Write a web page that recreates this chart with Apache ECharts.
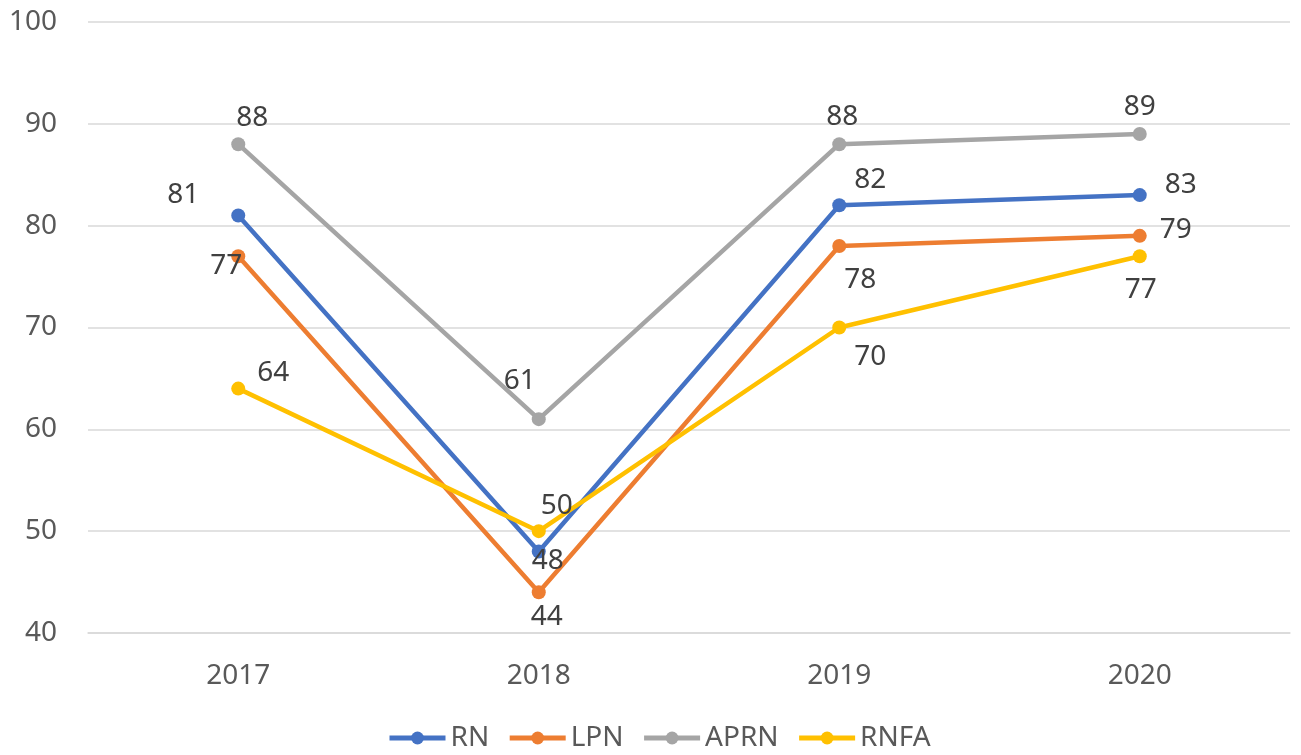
<!DOCTYPE html>
<html>
<head>
<meta charset="utf-8">
<script src="https://cdn.jsdelivr.net/npm/echarts@6/dist/echarts.min.js"></script>
<style>
  html, body { margin: 0; padding: 0; background: #fff; }
  #chart { width: 1301px; height: 755px; }
</style>
</head>
<body>
<div id="chart"></div>
<script>
const years = ['2017', '2018', '2019', '2020']
const rn = [81, 48, 82, 83]
const lpn = [77, 44, 78, 79]
const aprn = [88, 61, 88, 89]
const rnfa = [64, 50, 70, 77]

// label offsets per point, relative to the marker centre
const labelOffsets = {
  RN: [[-55, -20], [9, 9], [31, -25], [41, -10]],
  LPN: [[-12, 10], [8, 25], [21, 34], [36, -6]],
  APRN: [[14, -26], [-19, -38], [3, -27], [0, -27]],
  RNFA: [[35, -16], [18, -25], [31, 30], [1, 34]]
}

const font = '"Noto Sans", sans-serif'
const fs = 28

function makeSeries(name, values, color) {
  return {
    name: name,
    type: 'line',
    data: values.map((v, i) => ({
      value: v,
      label: { offset: labelOffsets[name][i] }
    })),
    symbol: 'circle',
    symbolSize: 14,
    lineStyle: { width: 4.5, color: color },
    itemStyle: { color: color },
    label: {
      show: true,
      position: 'inside',
      color: '#404040',
      fontSize: fs,
      fontFamily: font
    },
    emphasis: { disabled: true }
  }
}

const chart = echarts.init(document.getElementById('chart'))
chart.setOption({
  backgroundColor: '#fff',
  animation: false,
  grid: { left: 88, right: 11, top: 22, bottom: 122 },
  legend: {
    bottom: -2,
    left: 382,
    itemWidth: 56,
    itemHeight: 16,
    itemGap: 18,
    lineStyle: { width: 5 },
    textStyle: { color: '#595959', fontSize: fs, fontFamily: font },
    data: ['RN', 'LPN', 'APRN', 'RNFA']
  },
  xAxis: {
    type: 'category',
    data: years,
    boundaryGap: true,
    axisLine: { show: true, lineStyle: { color: '#d9d9d9', width: 1.5 } },
    axisTick: { show: false },
    axisLabel: { color: '#595959', fontSize: fs, fontFamily: font, margin: 29 }
  },
  yAxis: {
    type: 'value',
    min: 40,
    max: 100,
    interval: 10,
    axisLine: { show: false },
    axisTick: { show: false },
    axisLabel: { color: '#595959', fontSize: fs, fontFamily: font, margin: 31 },
    splitLine: { lineStyle: { color: '#d9d9d9', width: 1.5 } }
  },
  series: [
    makeSeries('RN', rn, '#4472C4'),
    makeSeries('LPN', lpn, '#ED7D31'),
    makeSeries('APRN', aprn, '#A5A5A5'),
    makeSeries('RNFA', rnfa, '#FFC000')
  ]
})
</script>
</body>
</html>
